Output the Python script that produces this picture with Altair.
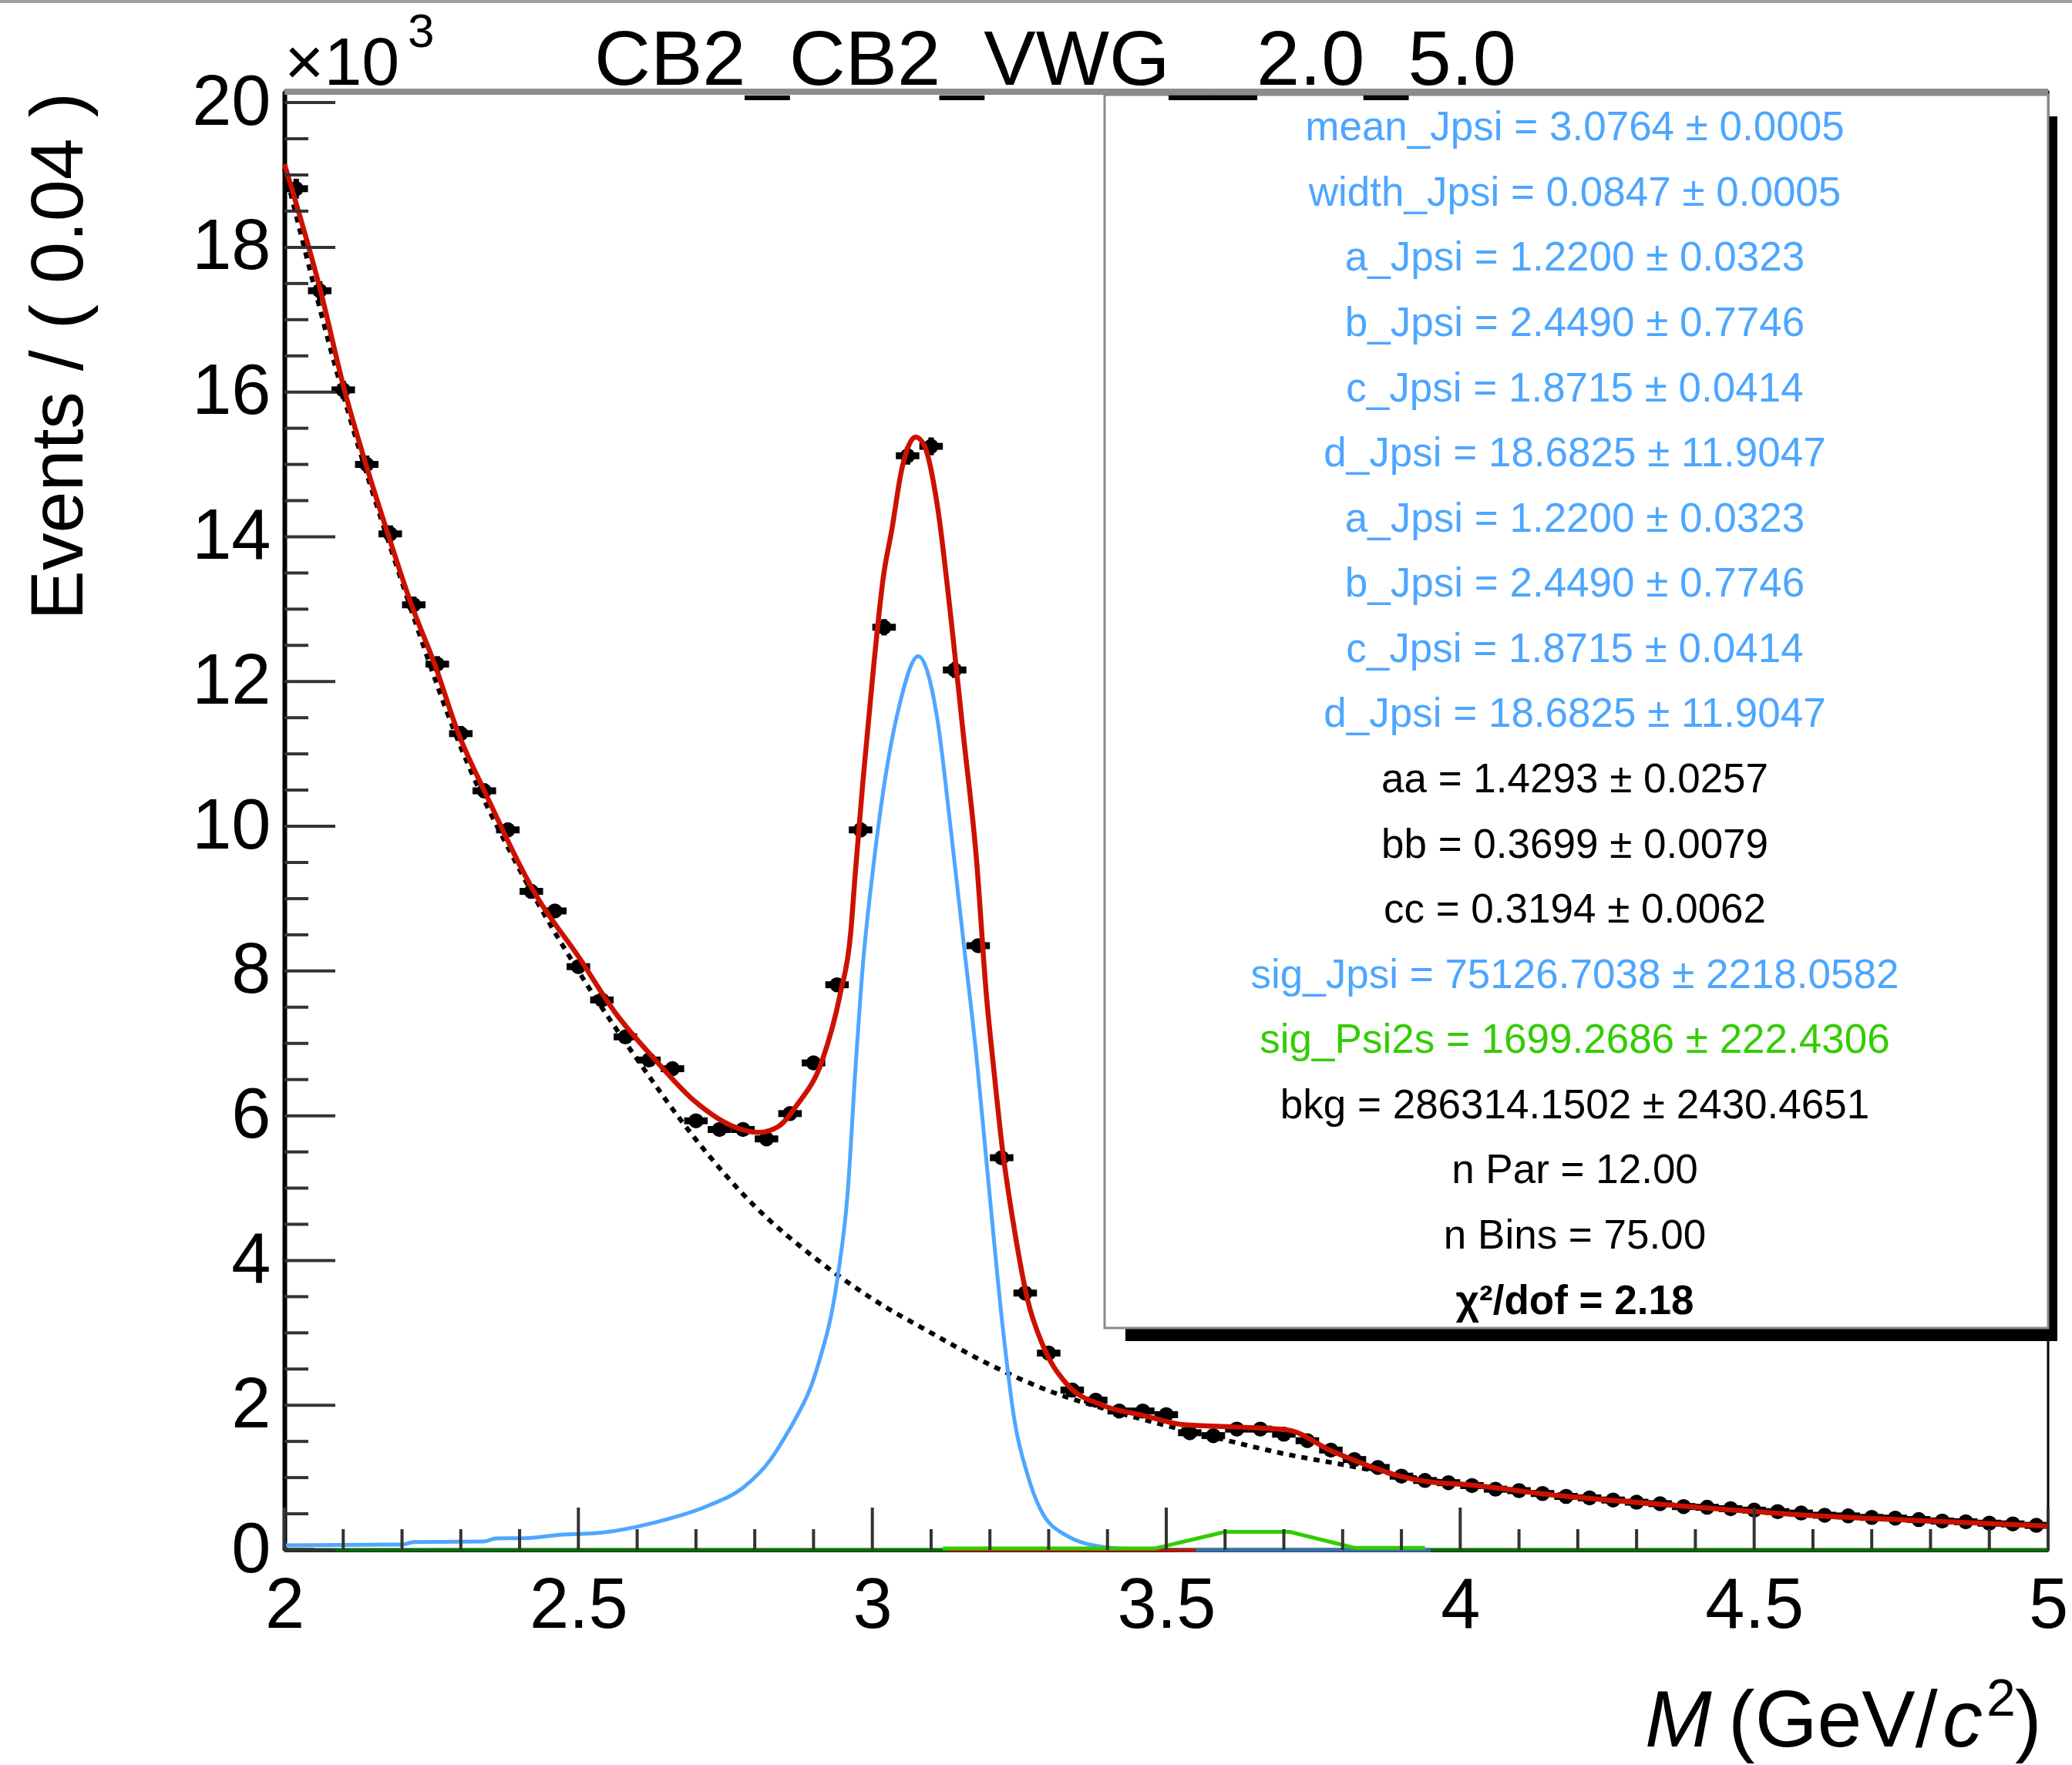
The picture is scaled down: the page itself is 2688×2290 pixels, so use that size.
import altair as alt
import pandas as pd

FONT = "Liberation Sans"

# ---------------- data ----------------
bin_centers = [2.02, 2.06, 2.10, 2.14, 2.18, 2.22, 2.26, 2.30, 2.34, 2.38,
               2.42, 2.46, 2.50, 2.54, 2.58, 2.62, 2.66, 2.70, 2.74, 2.78,
               2.82, 2.86, 2.90, 2.94, 2.98, 3.02, 3.06, 3.10, 3.14, 3.18,
               3.22, 3.26, 3.30, 3.34, 3.38, 3.42, 3.46, 3.50, 3.54, 3.58,
               3.62, 3.66, 3.70, 3.74, 3.78, 3.82, 3.86, 3.90, 3.94, 3.98,
               4.02, 4.06, 4.10, 4.14, 4.18, 4.22, 4.26, 4.30, 4.34, 4.38,
               4.42, 4.46, 4.50, 4.54, 4.58, 4.62, 4.66, 4.70, 4.74, 4.78,
               4.82, 4.86, 4.90, 4.94, 4.98]
counts_k = [18.81, 17.40, 16.03, 15.00, 14.04, 13.06, 12.24, 11.28, 10.49, 9.95,
            9.10, 8.83, 8.06, 7.60, 7.09, 6.77, 6.65, 5.93, 5.81, 5.81,
            5.68, 6.03, 6.73, 7.81, 9.95, 12.75, 15.12, 15.25, 12.16, 8.35,
            5.42, 3.55, 2.72, 2.21, 2.07, 1.92, 1.92, 1.87, 1.62, 1.58,
            1.67, 1.67, 1.60, 1.51, 1.38, 1.25, 1.14, 1.02, 0.96, 0.93,
            0.89, 0.84, 0.82, 0.78, 0.74, 0.72, 0.69, 0.66, 0.64, 0.60,
            0.59, 0.57, 0.55, 0.53, 0.51, 0.48, 0.47, 0.45, 0.44, 0.42,
            0.40, 0.39, 0.37, 0.36, 0.34]

total_m = [2.000, 2.062, 2.102, 2.139, 2.176, 2.216, 2.256, 2.296, 2.340, 2.430,
           2.500, 2.564, 2.631, 2.698, 2.764, 2.806, 2.840, 2.871, 2.915, 2.945,
           2.963, 2.971, 2.984, 3.002, 3.019, 3.033, 3.050, 3.074, 3.089, 3.111,
           3.133, 3.155, 3.177, 3.194, 3.207, 3.221, 3.242, 3.264, 3.290, 3.330,
           3.395, 3.460, 3.530, 3.617, 3.705, 3.783, 3.845, 3.893, 3.948, 4.000,
           4.170, 4.390, 4.610, 4.830, 5.000]
total_v = [19.15, 17.38, 16.03, 14.99, 14.04, 13.06, 12.23, 11.28, 10.49, 9.02,
           8.20, 7.41, 6.77, 6.20, 5.85, 5.77, 5.85, 6.14, 6.77, 7.67,
           8.51, 9.35, 10.62, 12.19, 13.46, 14.09, 14.93, 15.38, 15.25, 14.41,
           12.93, 11.25, 9.56, 7.67, 6.61, 5.56, 4.41, 3.46, 2.83, 2.30,
           1.99, 1.86, 1.73, 1.70, 1.66, 1.36, 1.16, 1.03, 0.94, 0.91,
           0.75, 0.60, 0.47, 0.39, 0.33]

bkg_m = [2.0, 2.1, 2.2, 2.3, 2.4, 2.5, 2.6, 2.7, 2.8, 2.9, 3.0, 3.1, 3.2,
         3.3, 3.4, 3.5, 3.6, 3.7, 3.8, 3.9, 4.0, 4.2, 4.4, 4.6, 4.8, 5.0]
bkg_v = [19.09, 15.96, 13.37, 11.09, 9.40, 8.00, 6.78, 5.67, 4.75, 4.05, 3.47, 3.00, 2.56,
         2.20, 1.94, 1.72, 1.52, 1.33, 1.18, 1.03, 0.91, 0.74, 0.60, 0.48, 0.40, 0.33]

jpsi_m = [2.000, 2.200, 2.220, 2.340, 2.360, 2.410, 2.470, 2.540, 2.630, 2.720,
          2.780, 2.827, 2.852, 2.867, 2.906, 2.941, 2.958, 2.971, 2.984, 3.002,
          3.019, 3.046, 3.078, 3.111, 3.133, 3.155, 3.177, 3.198, 3.221, 3.242,
          3.264, 3.286, 3.330, 3.395, 3.450, 3.550]
jpsi_v = [0.064, 0.075, 0.11, 0.117, 0.16, 0.163, 0.21, 0.24, 0.38, 0.61,
          0.86, 1.25, 1.57, 1.78, 2.51, 3.77, 4.93, 6.61, 8.09, 9.46,
          10.51, 11.67, 12.35, 11.46, 9.99, 8.41, 6.83, 5.04, 3.14, 1.78,
          1.04, 0.56, 0.20, 0.04, 0.01, 0.0]

psi2s_m = [3.12, 3.48, 3.60, 3.71, 3.82, 3.94]
psi2s_v = [0.02, 0.02, 0.25, 0.25, 0.03, 0.03]

zero_green_m = [2.0, 5.0]
zero_dark_m = [2.0, 2.05]
zero_red_m = [3.13, 3.55]
zero_steel_m = [3.55, 3.95]

x_major_ticks = [2.0, 2.5, 3.0, 3.5, 4.0, 4.5, 5.0]
x_minor_ticks = [2.1, 2.2, 2.3, 2.4, 2.6, 2.7, 2.8, 2.9, 3.1, 3.2, 3.3, 3.4, 3.6, 3.7,
                 3.8, 3.9, 4.1, 4.2, 4.3, 4.4, 4.6, 4.7, 4.8, 4.9]
y_major_ticks = [0, 2, 4, 6, 8, 10, 12, 14, 16, 18, 20]
y_minor_ticks = [0.5, 1, 1.5, 2.5, 3, 3.5, 4.5, 5, 5.5, 6.5, 7, 7.5, 8.5, 9, 9.5,
                 10.5, 11, 11.5, 12.5, 13, 13.5, 14.5, 15, 15.5, 16.5, 17, 17.5,
                 18.5, 19, 19.5]

stats_lines = ["mean_Jpsi = 3.0764 \u00b1 0.0005",
               "width_Jpsi = 0.0847 \u00b1 0.0005",
               "a_Jpsi = 1.2200 \u00b1 0.0323",
               "b_Jpsi = 2.4490 \u00b1 0.7746",
               "c_Jpsi = 1.8715 \u00b1 0.0414",
               "d_Jpsi = 18.6825 \u00b1 11.9047",
               "a_Jpsi = 1.2200 \u00b1 0.0323",
               "b_Jpsi = 2.4490 \u00b1 0.7746",
               "c_Jpsi = 1.8715 \u00b1 0.0414",
               "d_Jpsi = 18.6825 \u00b1 11.9047",
               "aa = 1.4293 \u00b1 0.0257",
               "bb = 0.3699 \u00b1 0.0079",
               "cc = 0.3194 \u00b1 0.0062",
               "sig_Jpsi = 75126.7038 \u00b1 2218.0582",
               "sig_Psi2s = 1699.2686 \u00b1 222.4306",
               "bkg = 286314.1502 \u00b1 2430.4651",
               "n Par = 12.00",
               "n Bins = 75.00",
               "\u03c7\u00b2/dof = 2.18"]
BLUE_T = "#4da6ff"
GREEN_T = "#33cc00"
stats_colors = [BLUE_T] * 10 + ["black"] * 3 + [BLUE_T, GREEN_T] + ["black"] * 4

# ---------------- chart ----------------
W, H = 2288, 1892
xs = alt.Scale(domain=[2, 5], nice=False, zero=False)
ys = alt.Scale(domain=[0, 20.15], nice=False, zero=False)

x_axis = alt.Axis(values=x_major_ticks, format="~g", labelFont=FONT, labelFontSize=92,
                  labelColor="black", labelPadding=27, ticks=False, domain=True,
                  domainColor="black", domainWidth=5, grid=False, title=None,
                  labelFlush=False, labelOverlap=False)
y_axis = alt.Axis(values=y_major_ticks, format="d", labelFont=FONT, labelFontSize=92,
                  labelColor="black", labelPadding=18, ticks=False, domain=True,
                  domainColor="black", domainWidth=6, grid=False, title=None,
                  labelFlush=False, labelOverlap=False)


def X(field):
    return alt.X(field, scale=xs, axis=x_axis)


def Y(field):
    return alt.Y(field, scale=ys, axis=y_axis)


one = pd.DataFrame({"a": [0]})

data_df = pd.DataFrame({"m": bin_centers, "n": counts_k})
base = alt.Chart(data_df).transform_calculate(
    err="sqrt(datum.n * 1000) / 1000",
    lo="datum.n - datum.err",
    hi="datum.n + datum.err",
    xl="datum.m - 0.02",
    xr="datum.m + 0.02",
)

hbar = base.mark_rule(color="black", strokeWidth=9).encode(x=X("xl:Q"), x2="xr:Q", y=Y("n:Q"))
vbar = base.mark_rule(color="black", strokeWidth=7).encode(x=X("m:Q"), y=Y("lo:Q"), y2="hi:Q")
points = base.mark_circle(size=380, color="black", opacity=1).encode(x=X("m:Q"), y=Y("n:Q"))


def curve(ms, vs, **kw):
    df = pd.DataFrame({"m": ms, "v": vs})
    return alt.Chart(df).mark_line(**kw).encode(x=X("m:Q"), y=Y("v:Q"))


bkg_line = curve(bkg_m, bkg_v, color="black", strokeWidth=6, strokeDash=[8, 8],
                 interpolate="monotone")
jpsi_line = curve(jpsi_m, jpsi_v, color="#4fa6ff", strokeWidth=5, interpolate="monotone")
psi_line = curve(psi2s_m, psi2s_v, color="#33cc00", strokeWidth=5)
z_green = curve(zero_green_m, [0, 0], color="#0b6b0b", strokeWidth=5)
z_dark = curve(zero_dark_m, [0, 0], color="#0a2a0a", strokeWidth=5)
z_red = curve(zero_red_m, [0, 0], color="#cc1100", strokeWidth=4)
z_steel = curve(zero_steel_m, [0, 0], color="#3b6eb0", strokeWidth=5)
total_line = curve(total_m, total_v, color="#cc1100", strokeWidth=6.5, interpolate="monotone")

# inward ticks
ymaj = alt.Chart(pd.DataFrame({"v": y_major_ticks})).mark_rule(color="#333", strokeWidth=4).encode(
    y=Y("v:Q"), x=alt.value(0), x2=alt.value(66))
ymin = alt.Chart(pd.DataFrame({"v": y_minor_ticks})).mark_rule(color="#333", strokeWidth=4).encode(
    y=Y("v:Q"), x=alt.value(0), x2=alt.value(31))
xmaj = alt.Chart(pd.DataFrame({"v": x_major_ticks})).mark_rule(color="#333", strokeWidth=4).encode(
    x=X("v:Q"), y=alt.value(H), y2=alt.value(H - 55))
xmin = alt.Chart(pd.DataFrame({"v": x_minor_ticks})).mark_rule(color="#333", strokeWidth=4).encode(
    x=X("v:Q"), y=alt.value(H), y2=alt.value(H - 27))

# frame top (gray) and window top line
top_frame = alt.Chart(one).mark_rule(color="#8c8c8c", strokeWidth=8).encode(
    x=alt.value(0), x2=alt.value(W), y=alt.value(0))
win_top = alt.Chart(one).mark_rule(color="#a0a0a0", strokeWidth=4).encode(
    x=alt.value(-369), x2=alt.value(W + 31), y=alt.value(-117))

# stats box
shadow = alt.Chart(one).mark_rect(color="black").encode(
    x=alt.value(1091), x2=alt.value(2300), y=alt.value(32), y2=alt.value(1621))
box = alt.Chart(one).mark_rect(fill="white", stroke="#8a8a8a", strokeWidth=3).encode(
    x=alt.value(1064), x2=alt.value(2288), y=alt.value(4), y2=alt.value(1604))

stat_layers = []
for i, (line, col) in enumerate(zip(stats_lines, stats_colors)):
    stat_layers.append(
        alt.Chart(pd.DataFrame({"t": [line]})).mark_text(
            font=FONT, fontSize=53, color=col, align="center", baseline="middle",
            fontWeight="bold" if i == len(stats_lines) - 1 else "normal",
        ).encode(text="t:N", x=alt.value(1674), y=alt.value(47.3 + i * 84.57))
    )


def label(txt, x, y, size, **kw):
    return alt.Chart(pd.DataFrame({"t": [txt]})).mark_text(
        font=FONT, fontSize=size, color="black", align=kw.pop("align", "left"),
        baseline=kw.pop("baseline", "alphabetic"), **kw
    ).encode(text="t:N", x=alt.value(x), y=alt.value(y))


title = label("CB2_CB2_VWG__2.0_5.0", 402, -9, 101)
exp_base = label("\u00d710", 0, -9, 88)
exp_sup = label("3", 160, -58, 62)
ytitle = label("Events / ( 0.04 )", -262, 1, 97, align="right", angle=270)
xt_m = label("M", 1765, 2147, 104, fontStyle="italic")
xt_mid = label("(GeV/", 1873, 2147, 104)
xt_c = label("c", 2151, 2147, 104, fontStyle="italic")
xt_2 = label("2", 2208, 2107, 68)
xt_end = label(")", 2245, 2147, 104)

chart = alt.layer(
    hbar, vbar, points,
    bkg_line, jpsi_line, z_green, z_dark, z_red, z_steel, psi_line, total_line,
    ymaj, ymin, xmaj, xmin, top_frame, win_top,
    shadow, box, *stat_layers,
    title, exp_base, exp_sup, ytitle, xt_m, xt_mid, xt_c, xt_2, xt_end,
).properties(
    width=W, height=H,
    padding={"left": 369, "top": 119, "right": 31, "bottom": 279},
    autosize=alt.AutoSizeParams(type="none"),
    background="white",
).configure_view(stroke="black", strokeWidth=3)

chart.save("out.html", embed_options={"renderer": "svg", "actions": False})
